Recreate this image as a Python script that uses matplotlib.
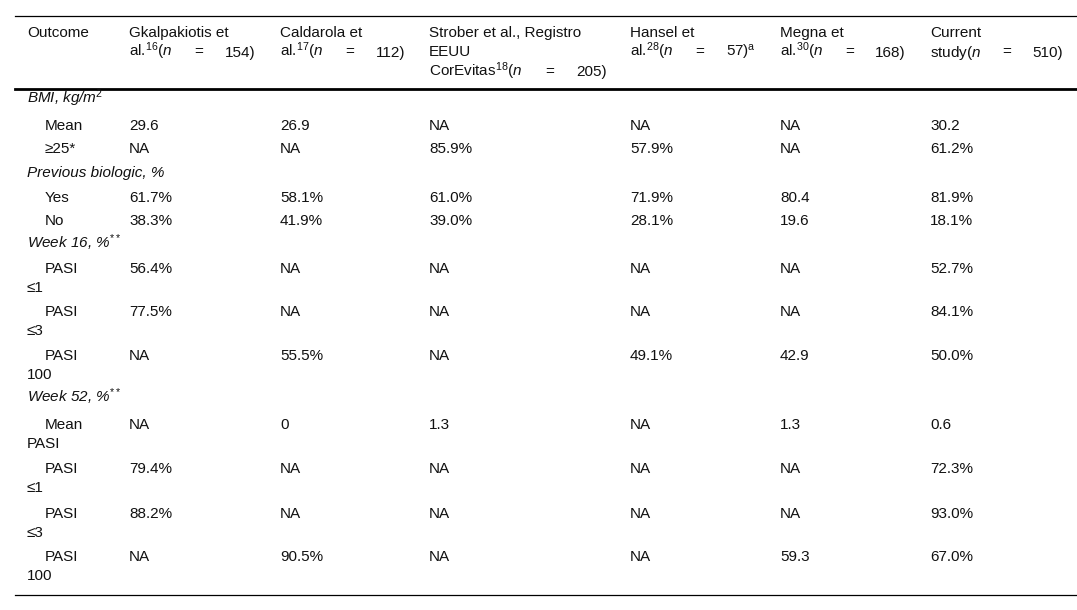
import matplotlib
matplotlib.use('Agg')
from matplotlib import pyplot as plt

plt.rcParams['font.family'] = ['Liberation Sans', 'DejaVu Sans']
plt.rcParams['mathtext.fontset'] = 'custom'
plt.rcParams['mathtext.rm'] = 'Liberation Sans'
plt.rcParams['mathtext.it'] = 'Liberation Sans:italic'

# header text of each study column (first lines, then the "n = ..." part)
header_top = [['Gkalpakiotis et'], ['Caldarola et'], ['Strober et al., Registro', 'EEUU'],
              ['Hansel et'], ['Megna et'], ['Current']]
header_left = [r'al.$^{16}$($\it{n}$', r'al.$^{17}$($\it{n}$', r'CorEvitas$^{18}$($\it{n}$',
               r'al.$^{28}$($\it{n}$', r'al.$^{30}$($\it{n}$', r'study($\it{n}$']
header_n = ['154)', '112)', '205)', r'57)$^{\rm a}$', '168)', '510)']

sections = ['BMI, kg/m$^2$', 'Previous biologic, %', 'Week 16, %$^{**}$', 'Week 52, %$^{**}$']

row_labels = [['Mean'], ['≥25*'], ['Yes'], ['No'],
              ['PASI', '≤1'], ['PASI', '≤3'], ['PASI', '100'],
              ['Mean', 'PASI'], ['PASI', '≤1'], ['PASI', '≤3'], ['PASI', '100']]

gkalpakiotis = ['29.6', 'NA', '61.7%', '38.3%', '56.4%', '77.5%', 'NA', 'NA', '79.4%', '88.2%', 'NA']
caldarola = ['26.9', 'NA', '58.1%', '41.9%', 'NA', 'NA', '55.5%', '0', 'NA', 'NA', '90.5%']
strober = ['NA', '85.9%', '61.0%', '39.0%', 'NA', 'NA', 'NA', '1.3', 'NA', 'NA', 'NA']
hansel = ['NA', '57.9%', '71.9%', '28.1%', 'NA', 'NA', '49.1%', 'NA', 'NA', 'NA', 'NA']
megna = ['NA', 'NA', '80.4', '19.6', 'NA', 'NA', '42.9', '1.3', 'NA', 'NA', '59.3']
current = ['30.2', '61.2%', '81.9%', '18.1%', '52.7%', '84.1%', '50.0%', '0.6', '72.3%', '93.0%', '67.0%']
columns = [gkalpakiotis, caldarola, strober, hansel, megna, current]

# layout in pixels (figure is 1077 x 610)
col_x = [129, 280, 429, 630, 780, 930]
n_right = [255, 405, 607, 756, 906, 1063]
fs = 11
dy = 5  # center -> baseline

fig = plt.figure(figsize=(10.77, 6.10), dpi=100)
ax = fig.add_axes([0, 0, 1, 1])
ax.set_xlim(0, 1077)
ax.set_ylim(610, 0)
ax.axis('off')

def txt(x, y, s, **kw):
    return ax.text(x, y + dy, s, fontsize=fs, va='baseline', color='#111111', **kw)

# rules
ax.plot([15, 1077], [15.5, 15.5], color='black', lw=0.9)
ax.plot([15, 1077], [89, 89], color='black', lw=2.0)
ax.plot([15, 1077], [594.5, 594.5], color='black', lw=0.9)

# header
renderer = fig.canvas.get_renderer()
inv = ax.transData.inverted()
txt(27, 32, 'Outcome')
for i in range(6):
    lines = header_top[i]
    for k, s in enumerate(lines):
        txt(col_x[i], 32 + 19.5 * k, s)
    yn = 32 + 19.5 * len(lines)
    t1 = txt(col_x[i], yn, header_left[i])
    t2 = txt(n_right[i], yn, header_n[i], ha='right')
    # justified line: "=" sits midway in the gap
    x1 = inv.transform(t1.get_window_extent(renderer).get_points())[1][0]
    x2 = inv.transform(t2.get_window_extent(renderer).get_points())[0][0]
    txt((x1 + x2) / 2, yn, '=', ha='center')

# body
sec_y = [98, 172, 243, 397]
row_y = [125, 148, 197, 220, 268, 311, 355, 424, 468, 513, 556]
for s, y in zip(sections, sec_y):
    txt(27, y, s, style='italic')
for r, lab in enumerate(row_labels):
    txt(45, row_y[r], lab[0])
    if len(lab) > 1:
        txt(27, row_y[r] + 19, lab[1])
    for c in range(6):
        txt(col_x[c], row_y[r], columns[c][r])

plt.savefig('out.png', dpi=100)
